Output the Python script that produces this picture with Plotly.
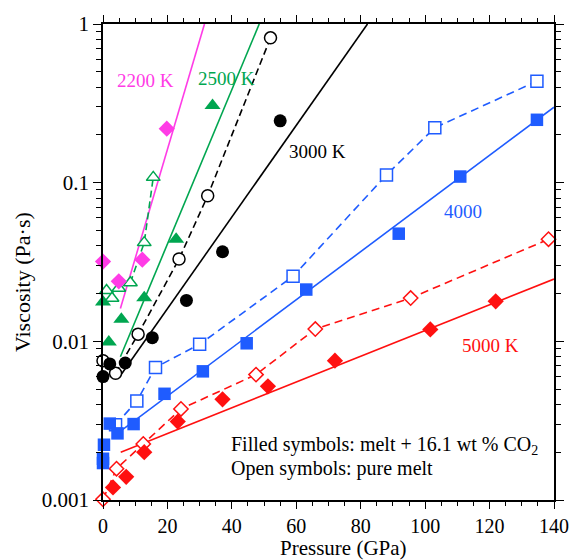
import plotly.graph_objects as go

# ---------------- data ----------------
# 2200 K
P_2200_co2 = [0, 4.9, 12.2, 19.8]
eta_2200_co2 = [0.0318, 0.0239, 0.0327, 0.219]
fit_2200_P = [5.4, 31.5]
fit_2200_eta = [0.0161, 1.0]

# 2500 K
P_2500_co2 = [0, 1.8, 5.7, 12.8, 22.7, 34.0]
eta_2500_co2 = [0.0177, 0.0099, 0.0138, 0.0188, 0.044, 0.306]
P_2500_pure = [1.1, 2.8, 4.9, 8.5, 12.8, 15.6]
eta_2500_pure = [0.0209, 0.0187, 0.0216, 0.0234, 0.0419, 0.108]
fit_2500_P = [5.4, 48.5]
fit_2500_eta = [0.0080, 1.0]

# 3000 K
P_3000_co2 = [0, 2.1, 6.9, 15.3, 25.9, 37.1, 55.0]
eta_3000_co2 = [0.0060, 0.0072, 0.0073, 0.01055, 0.0181, 0.0367, 0.2455]
P_3000_pure = [0, 3.9, 10.9, 23.6, 32.5, 52.0]
eta_3000_pure = [0.00755, 0.0063, 0.0111, 0.033, 0.0827, 0.818]
fit_3000_P = [5.7, 82.1]
fit_3000_eta = [0.0062, 1.0]

# 4000 K
P_4000_co2 = [0, 0, 0.3, 2.1, 4.5, 9.5, 19.1, 31.0, 44.6, 63.1, 91.8, 110.9, 134.7]
eta_4000_co2 = [0.00171, 0.00182, 0.00223, 0.00303, 0.00263, 0.00301, 0.00467,
                0.00647, 0.00972, 0.0212, 0.0477, 0.1093, 0.249]
P_4000_pure = [3.9, 10.5, 16.3, 30.0, 59.0, 88.0, 103.0, 134.7]
eta_4000_pure = [0.00298, 0.0042, 0.00685, 0.00958, 0.0257, 0.1119, 0.222, 0.436]
fit_4000_P = [4.5, 140]
fit_4000_eta = [0.00263, 0.299]

# 5000 K
P_5000_co2 = [3.1, 7.2, 12.8, 23.2, 37.1, 51.2, 72.0, 101.6, 121.9]
eta_5000_co2 = [0.0012, 0.0014, 0.0020, 0.00312, 0.00431, 0.00521, 0.00755, 0.01188, 0.01787]
P_5000_pure = [0, 4.2, 12.5, 24.2, 47.5, 65.9, 95.5, 138.3]
eta_5000_pure = [0.00101, 0.001575, 0.002256, 0.00375, 0.00617, 0.01195, 0.01875, 0.044]
fit_5000_P = [5.5, 140]
fit_5000_eta = [0.0020, 0.0247]

y_tickvals = [0.001, 0.01, 0.1, 1]
y_ticktext = ["0.001", "0.01", "0.1", "1"]

# ---------------- styles ----------------
MAG = "#FF3CE6"
GRN = "#00A650"
BLK = "#000000"
BLU = "#1F5CFF"
RED = "#FF1010"
FONT = "Liberation Serif"

fig = go.Figure()

def fit_line(x, y, color):
    fig.add_trace(go.Scatter(x=x, y=y, mode="lines",
                             line=dict(color=color, width=1.6),
                             showlegend=False, hoverinfo="skip"))

def dash_line(x, y, color, dash):
    fig.add_trace(go.Scatter(x=x, y=y, mode="lines",
                             line=dict(color=color, width=1.6, dash=dash),
                             showlegend=False, hoverinfo="skip"))

def filled(x, y, color, symbol, size):
    fig.add_trace(go.Scatter(x=x, y=y, mode="markers", cliponaxis=False,
                             marker=dict(symbol=symbol, size=size, color=color,
                                         line=dict(width=0)),
                             showlegend=False))

def opened(x, y, color, symbol, size):
    fig.add_trace(go.Scatter(x=x, y=y, mode="markers", cliponaxis=False,
                             marker=dict(symbol=symbol, size=size, color="white",
                                         line=dict(width=1.5, color=color)),
                             showlegend=False))

# fit lines
fit_line(fit_2200_P, fit_2200_eta, MAG)
fit_line(fit_2500_P, fit_2500_eta, GRN)
fit_line(fit_3000_P, fit_3000_eta, BLK)
fit_line(fit_4000_P, fit_4000_eta, BLU)
fit_line(fit_5000_P, fit_5000_eta, RED)

# dashed connectors for pure melt
dash_line(P_2500_pure[3:], eta_2500_pure[3:], GRN, "7px,4px")
dash_line(P_3000_pure[1:], eta_3000_pure[1:], BLK, "7px,4px")
dash_line(P_4000_pure, eta_4000_pure, BLU, "8px,5px")
dash_line(P_5000_pure, eta_5000_pure, RED, "8px,5px")

# markers
opened(P_2500_pure, eta_2500_pure, GRN, "triangle-up", 12)
opened(P_3000_pure, eta_3000_pure, BLK, "circle", 12)
opened(P_4000_pure, eta_4000_pure, BLU, "square", 12)
opened(P_5000_pure, eta_5000_pure, RED, "diamond", 11)

filled(P_2200_co2, eta_2200_co2, MAG, "diamond", 12.5)
filled(P_2500_co2, eta_2500_co2, GRN, "triangle-up", 14)
filled(P_3000_co2, eta_3000_co2, BLK, "circle", 13)
filled(P_4000_co2, eta_4000_co2, BLU, "square", 12.5)
filled(P_5000_co2, eta_5000_co2, RED, "diamond", 12.5)

# ---------------- layout ----------------
L, R, T, B = 103, 17, 19, 60
W, H = 581, 560
pw, ph = W - L - R, H - T - B

def px2paper(px, py):
    return (px - L) / pw, (H - B - py) / ph

annos = []
def label(text, px, py, color, size=19, xanchor="center"):
    xp, yp = px2paper(px, py)
    annos.append(dict(text=text, x=xp, y=yp, xref="paper", yref="paper",
                      xanchor=xanchor, yanchor="middle", showarrow=False,
                      font=dict(family=FONT, size=size, color=color)))

label("2200 K", 146.5, 76, MAG)
label("2500 K", 229, 74.5, GRN)
label("3000 K", 322.5, 147.5, BLK)
label("4000", 470.5, 208, BLU)
label("5000 K", 499, 343.5, RED)
label("Filled symbols: melt + 16.1 wt % CO<sub>2</sub>", 231.7, 445, BLK, size=20, xanchor="left")
label("Open symbols: pure melt", 231.7, 468, BLK, size=20, xanchor="left")
label("Pressure (GPa)", 349, 548, BLK, size=21)
xp, yp = px2paper(21, 280)
annos.append(dict(text="Viscosity (Pa·s)", x=xp, y=yp, xref="paper", yref="paper",
                  xanchor="center", yanchor="middle", showarrow=False, textangle=-90,
                  font=dict(family=FONT, size=22, color=BLK)))

fig.update_layout(
    width=W, height=H,
    margin=dict(l=L, r=R, t=T, b=B, pad=0),
    paper_bgcolor="white", plot_bgcolor="white",
    font=dict(family=FONT, size=20, color="black"),
    showlegend=False,
    annotations=annos,
)

fig.update_xaxes(
    range=[0, 140], dtick=20, tick0=0,
    showgrid=False, zeroline=False,
    showline=True, linecolor="black", linewidth=1.5, mirror="allticks",
    ticks="outside", ticklen=7, tickwidth=1.3, tickcolor="black",
    tickfont=dict(family=FONT, size=20, color="black"),
    minor=dict(ticks="outside", ticklen=4, tickwidth=1.1, dtick=5, tick0=0,
               tickcolor="black", showgrid=False),
)
fig.update_yaxes(
    type="log", range=[-3, 0],
    tickvals=y_tickvals, ticktext=y_ticktext,
    showgrid=False, zeroline=False,
    showline=True, linecolor="black", linewidth=1.5, mirror="allticks",
    ticks="outside", ticklen=8, tickwidth=1.3, tickcolor="black",
    tickfont=dict(family=FONT, size=21, color="black"),
    minor=dict(ticks="outside", ticklen=5, tickwidth=1.1, dtick="D1",
               tickcolor="black", showgrid=False),
)

fig.write_html("out.html")
